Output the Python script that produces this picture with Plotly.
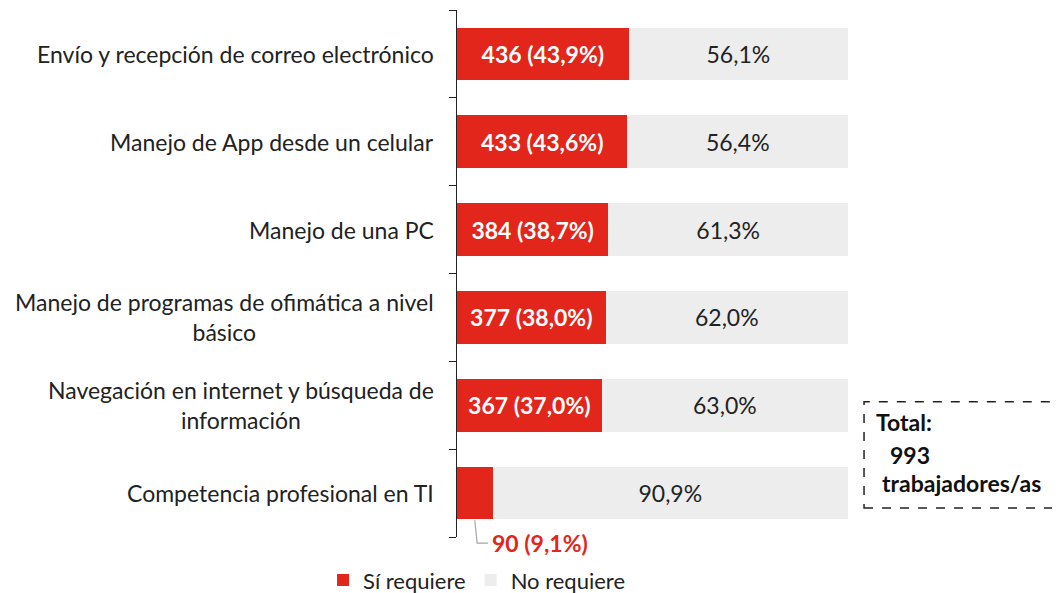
import plotly.graph_objects as go

categories = [
    "Envío y recepción de correo electrónico",
    "Manejo de App desde un celular",
    "Manejo de una PC",
    "Manejo de programas de ofimática a nivel<br>básico",
    "Navegación en internet y búsqueda de<br>información",
    "Competencia profesional en TI",
]
counts_si = [436, 433, 384, 377, 367, 90]
pct_si = [43.9, 43.6, 38.7, 38.0, 37.0, 9.1]
pct_no = [56.1, 56.4, 61.3, 62.0, 63.0, 90.9]
total = 993
legend_names = ["Sí requiere", "No requiere"]

RED = "#E2261C"
GREY = "#EDEDED"
FONT = "Lato"
FS = 23
n = len(categories)
ids = list(range(n))

def fmt(v):
    return f"{v:.1f}".replace(".", ",")

si_text = [f"<b>{c} ({fmt(p)}%)</b>" for c, p in zip(counts_si, pct_si)]
si_text[-1] = ""
no_text = [f"{fmt(p)}%" for p in pct_no]

fig = go.Figure()
fig.add_trace(go.Bar(
    y=ids, x=pct_si, orientation="h", name=legend_names[0],
    marker=dict(color=RED, line=dict(width=0)), width=0.6,
    text=si_text, textposition="inside", insidetextanchor="middle",
    textangle=0, insidetextfont=dict(color="white", size=FS, family=FONT),
    hoverinfo="skip",
))
fig.add_trace(go.Bar(
    y=ids, x=pct_no, orientation="h", name=legend_names[1],
    marker=dict(color=GREY, line=dict(width=0)), width=0.6,
    text=no_text, textposition="inside", insidetextanchor="middle",
    textangle=0, insidetextfont=dict(color="#222222", size=FS, family=FONT),
    hoverinfo="skip",
))

def py(c):
    # paper y for category position c (axis reversed, range -0.5..n-0.5)
    return 1 - (c + 0.5) / n

annotations = []
for i, cat in enumerate(categories):
    annotations.append(dict(
        xref="paper", yref="y", x=0, y=i, xanchor="right", yanchor="middle",
        xshift=-21, text=cat, showarrow=False, align="center",
        font=dict(size=FS, color="#222222", family=FONT),
    ))

# outside label for last bar
last = n - 1
annotations.append(dict(
    xref="x", yref="paper", x=pct_si[last], y=py(last + 0.57),
    xanchor="left", yanchor="middle", xshift=-3,
    text=f"<b>{counts_si[last]} ({fmt(pct_si[last])}%)</b>", showarrow=False,
    font=dict(size=FS, color=RED, family=FONT),
))

# total box texts
annotations += [
    dict(xref="paper", yref="paper", x=1.066, y=py(4.19), xanchor="left", yanchor="middle",
         text="<b>Total:</b>", showarrow=False, font=dict(size=FS, color="#111", family=FONT)),
    dict(xref="paper", yref="paper", x=1.102, y=py(4.57), xanchor="left", yanchor="middle",
         text=f"<b>{total}</b>", showarrow=False, font=dict(size=FS, color="#111", family=FONT)),
    dict(xref="paper", yref="paper", x=1.082, y=py(4.885), xanchor="left", yanchor="middle",
         text="<b>trabajadores/as</b>", showarrow=False, font=dict(size=FS, color="#111", family=FONT)),
]

shapes = [
    # leader line for last label
    dict(type="path", xref="x domain", yref="paper",
         path=(f"M {pct_si[last]/2/100} {py(last + 0.31)} "
               f"L {pct_si[last]/2/100 + 0.006} {py(last + 0.57)} "
               f"L {pct_si[last]/100 - 0.012} {py(last + 0.57)}"),
         line=dict(color="#A6A6A6", width=1.2)),
    # total box
    dict(type="rect", xref="paper", yref="paper",
         x0=1.041, x1=1.58, y0=py(5.17), y1=py(3.96),
         line=dict(color="#222222", width=1.5, dash="dash")),
]

# page body has an 8px margin: figure is 8px smaller so it fills the window
fig.update_layout(
    barmode="stack",
    width=1052, height=585,
    margin=dict(l=449, r=212, t=2, b=56, autoexpand=False),
    paper_bgcolor="white", plot_bgcolor="white",
    font=dict(family=FONT, size=FS, color="#222222"),
    showlegend=True,
    legend=dict(orientation="h", x=0.05, xanchor="center", y=-0.082, yanchor="middle",
                font=dict(size=FS - 1, family=FONT, color="#222222"), traceorder="normal",
                itemwidth=30),
    annotations=annotations,
    shapes=shapes,
    xaxis=dict(range=[0, 100], visible=False, fixedrange=True),
    yaxis=dict(range=[n - 0.5, -0.5], showticklabels=False, showline=True,
               linecolor="#222222", linewidth=1.3, ticks="outside", ticklen=7,
               tickcolor="#222222", tickwidth=1.3, tickmode="array",
               tickvals=[i - 0.5 for i in range(n + 1)], showgrid=False,
               zeroline=False),
)

fig.write_html("out.html")
